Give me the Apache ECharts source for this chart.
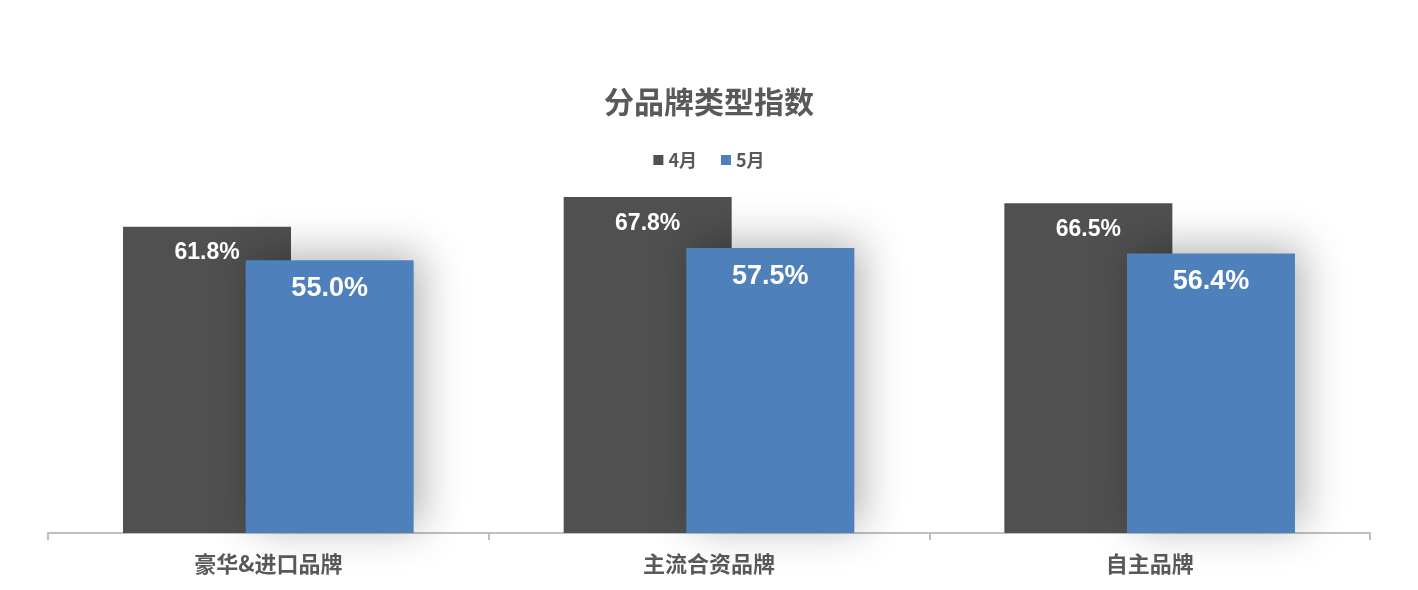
<!DOCTYPE html>
<html><head><meta charset="utf-8">
<script src="https://cdn.jsdelivr.net/npm/echarts@6/dist/echarts.min.js"></script>
<style>html,body{margin:0;padding:0;background:#fff}#c{width:1418px;height:590px}</style>
</head><body><div id="c"></div>
<script>
const categories = ['豪华&进口品牌', '主流合资品牌', '自主品牌'];
const seriesNames = ['4月', '5月'];
const april = [61.8, 67.8, 66.5];
const may = [55.0, 57.5, 56.4];

const chart = echarts.init(document.getElementById('c'));
const labelFont = '"Liberation Sans", Arial, sans-serif';
const cjk = '"Noto Sans CJK SC", sans-serif';
chart.setOption({
  animation: false,
  title: {
    text: '分品牌类型指数', left: 'center', top: 82,
    textStyle: { fontSize: 30, fontWeight: 'bold', color: '#595959', fontFamily: cjk }
  },
  legend: {
    data: seriesNames, top: 146, left: 'center', itemWidth: 10, itemHeight: 10, itemGap: 24,
    icon: 'rect',
    textStyle: { fontSize: 18, fontWeight: 'bold', color: '#595959', fontFamily: cjk }
  },
  grid: { left: 48, right: 48, top: 186, bottom: 57 },
  xAxis: {
    type: 'category', data: categories,
    axisLine: { lineStyle: { color: '#bfbfbf', width: 2 } },
    axisTick: { show: true, length: 7, lineStyle: { color: '#bfbfbf', width: 2 } },
    axisLabel: { fontSize: 22, fontWeight: 'bold', color: '#595959', margin: 20, fontFamily: cjk }
  },
  yAxis: { type: 'value', min: 0, max: 70, show: false, splitLine: { show: false } },
  series: [
    {
      name: seriesNames[0], type: 'bar', data: april, barWidth: 168, barGap: '-27%',
      itemStyle: { color: '#505050' },
      label: { show: true, position: 'insideTop', distance: 15, formatter: p => p.value.toFixed(1) + '%',
        color: '#fff', fontSize: 23, fontWeight: 'bold', fontFamily: labelFont }
    },
    {
      name: seriesNames[1], type: 'bar', data: may, barWidth: 168,
      itemStyle: { color: '#4e80bc', shadowBlur: 40, shadowColor: 'rgba(0,0,0,0.3)', shadowOffsetX: 8, shadowOffsetY: -6 },
      label: { show: true, position: 'insideTop', distance: 15, formatter: p => p.value.toFixed(1) + '%',
        color: '#fff', fontSize: 27, fontWeight: 'bold', fontFamily: labelFont }
    }
  ]
});
</script></body></html>
